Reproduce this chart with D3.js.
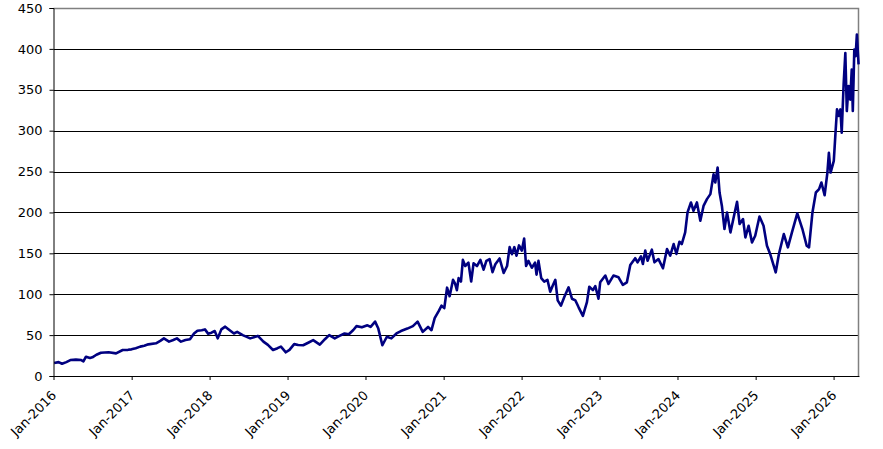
<!DOCTYPE html>
<html>
<head>
<meta charset="utf-8">
<script src="https://cdn.jsdelivr.net/npm/d3@7"></script>
<style>
  body { margin: 0; background: #fff; }
  svg { display: block; }
  .axis text { font-family: "DejaVu Sans", Verdana, sans-serif; fill: #000; }
</style>
</head>
<body>
<div id="chart"></div>
<script>
// dates, one line per year
const dates = [
  "2016-01-04","2016-01-25","2016-02-10","2016-03-01","2016-03-20","2016-04-15","2016-05-10","2016-05-20","2016-06-01","2016-06-20","2016-07-01","2016-07-20","2016-08-10","2016-09-15","2016-10-20","2016-11-20","2016-12-15","2016-12-31",
  "2017-01-20","2017-02-10","2017-03-01","2017-03-20","2017-04-25","2017-05-15","2017-06-01","2017-06-25","2017-07-15","2017-08-01","2017-08-20","2017-09-10","2017-10-01","2017-10-20","2017-11-05","2017-11-25","2017-12-10","2017-12-25",
  "2018-01-10","2018-01-25","2018-02-08","2018-02-25","2018-03-15","2018-04-05","2018-04-25","2018-05-10","2018-06-05","2018-07-10","2018-08-15","2018-09-10","2018-10-01","2018-10-25","2018-11-15","2018-12-01","2018-12-24",
  "2019-01-10","2019-02-01","2019-02-20","2019-03-15","2019-04-10","2019-05-01","2019-06-01","2019-06-25","2019-07-15","2019-08-10","2019-09-01","2019-09-25","2019-10-15","2019-11-05","2019-11-20","2019-12-15",
  "2020-01-10","2020-01-25","2020-02-15","2020-03-01","2020-03-20","2020-04-10","2020-05-01","2020-05-25","2020-06-15","2020-07-15","2020-08-10","2020-09-01","2020-09-25","2020-10-20","2020-11-05","2020-11-20","2020-12-10","2020-12-22",
  "2021-01-04","2021-01-17","2021-01-29","2021-02-14","2021-02-23","2021-03-04","2021-03-12","2021-03-23","2021-04-01","2021-04-12","2021-04-27","2021-05-10","2021-05-21","2021-06-06","2021-06-22","2021-07-07","2021-07-20","2021-08-04","2021-08-18","2021-08-31","2021-09-20","2021-10-09","2021-10-25","2021-11-06","2021-11-17","2021-11-28","2021-12-08","2021-12-20",
  "2022-01-02","2022-01-13","2022-01-22","2022-02-02","2022-02-18","2022-03-05","2022-03-12","2022-03-21","2022-04-03","2022-04-17","2022-05-02","2022-05-15","2022-05-28","2022-06-08","2022-06-19","2022-07-04","2022-07-20","2022-08-09","2022-08-25","2022-09-10","2022-09-25","2022-10-15","2022-11-03","2022-11-14","2022-12-01","2022-12-12","2022-12-27",
  "2023-01-04","2023-01-28","2023-02-12","2023-03-07","2023-03-31","2023-04-20","2023-05-09","2023-05-25","2023-06-17","2023-06-28","2023-07-14","2023-07-23","2023-08-03","2023-08-14","2023-09-03","2023-09-15","2023-10-04","2023-10-25","2023-11-13","2023-11-28","2023-12-14","2023-12-27",
  "2024-01-10","2024-01-21","2024-02-06","2024-02-17","2024-03-04","2024-03-16","2024-04-01","2024-04-17","2024-05-02","2024-05-18","2024-06-03","2024-06-18","2024-06-26","2024-07-07","2024-07-16","2024-07-27","2024-08-08","2024-08-20","2024-09-05","2024-09-20","2024-10-06","2024-10-18","2024-11-03","2024-11-14","2024-11-29","2024-12-15","2024-12-30",
  "2025-01-19","2025-02-07","2025-02-23","2025-03-10","2025-04-05","2025-04-20","2025-05-13","2025-06-01","2025-06-20","2025-07-15","2025-08-08","2025-08-28","2025-09-08","2025-09-24","2025-10-10","2025-10-25","2025-11-05","2025-11-20","2025-12-03","2025-12-10","2025-12-18",
  "2026-01-02","2026-01-10","2026-01-17","2026-01-25","2026-02-02","2026-02-08","2026-02-17","2026-02-25","2026-03-04","2026-03-12","2026-03-20","2026-03-27","2026-04-01","2026-04-08","2026-04-14","2026-04-20","2026-04-28"
];

// prices, same order as dates
const values = [
  16,17,15,17,19.5,20,19.5,18,23.6,22,22.8,26,28.5,29,27.7,31.8,32,32.6,
  34,35.9,37,38.7,40,43,46,42,44,46,42,44,45,52,55.4,56,57,51.8,
  53,55,46,57,60.3,56,52,54,50,46,49,42,38,31.8,34,36,29,
  32,39,38,37.6,41,43.8,38.4,45,50,45.9,49,52,51,56.2,61,59.5,
  62,60,66.5,58,37.6,48,46,52,55,58,61,66.5,54,60,56,70.7,80,86,
  83,108,97.5,117.6,113.4,105,119.7,115.5,142,134.5,138.6,115.5,137.8,134.5,142,130,140.8,142.9,127,136.6,143.7,126,134.5,157.6,149,157.6,147,159.7,
  153.4,168,134.5,140.8,132.4,138.6,124,140.8,119.7,115.5,117.6,103,111.3,117.6,92.4,86,96.6,108.4,94.5,92.4,84,73.5,90.3,109.2,105,110,94.5,
  114.6,122.8,112.6,122.8,120.7,111.4,114.6,135.8,144,139,146.3,137,153.3,141,154.5,139,143,131.7,155.3,147.2,161.4,149.2,
  164.2,161.4,175.6,200,212.2,202,212.2,189.8,208,216.3,222.4,246.7,236.6,254.9,224.4,208,179.7,200,175.6,193.9,213,185.8,191.9,169.5,183.7,163.4,171.5,
  195,183.7,159.3,149.2,126.8,149.2,173.6,157.3,175.6,198.8,179.7,159.3,157.3,200,224.4,228.5,236.6,221,248.8,273,248.8,
  263,297.6,326,318,326,297.6,356.5,395,324,354.5,338,374.8,324,399.2,391,417.5,381
];

const yTicks = [0, 50, 100, 150, 200, 250, 300, 350, 400, 450];
const xTickYears = [2016, 2017, 2018, 2019, 2020, 2021, 2022, 2023, 2024, 2025, 2026];

const parse = d3.timeParse("%Y-%m-%d");
const data = dates.map((d, i) => ({ date: parse(d), value: values[i] }));

const W = 883, H = 449;
const margin = { top: 8, right: 24, bottom: 73, left: 53.5 };
const width = W - margin.left - margin.right;
const height = H - margin.top - margin.bottom;

const svg = d3.select("#chart").append("svg")
  .attr("width", W)
  .attr("height", H);

const g = svg.append("g")
  .attr("transform", `translate(${margin.left},${margin.top})`);

const x = d3.scaleTime()
  .domain([new Date(2016, 0, 1), new Date(2026, 3, 30)])
  .range([0, width]);

const y = d3.scaleLinear()
  .domain([0, 450])
  .range([height, 0]);

// horizontal gridlines
g.selectAll(".grid")
  .data(yTicks.filter(t => t > 0 && t < 450))
  .enter()
  .append("line")
  .attr("class", "grid")
  .attr("x1", 0)
  .attr("x2", width)
  .attr("y1", d => Math.round(y(d)) + 0.5)
  .attr("y2", d => Math.round(y(d)) + 0.5)
  .attr("stroke", "#000")
  .attr("stroke-width", 1);

// grey frame on top and right
g.append("path")
  .attr("d", `M0,0.5H${width - 0.5}V${height}`)
  .attr("fill", "none")
  .attr("stroke", "#808080")
  .attr("stroke-width", 1.5);

// the price line
const line = d3.line()
  .x(d => x(d.date))
  .y(d => y(d.value));

g.append("path")
  .datum(data)
  .attr("fill", "none")
  .attr("stroke", "#000080")
  .attr("stroke-width", 2.6)
  .attr("stroke-linejoin", "round")
  .attr("d", line);

// y axis
const yAxis = g.append("g")
  .attr("class", "axis")
  .call(d3.axisLeft(y).tickValues(yTicks).tickSize(4).tickPadding(7));
yAxis.selectAll("text").style("font-size", "13px");
yAxis.select(".domain").attr("stroke", "#000");

// x axis
const xAxis = g.append("g")
  .attr("class", "axis")
  .attr("transform", `translate(0,${height})`)
  .call(d3.axisBottom(x)
    .tickValues(xTickYears.map(yr => new Date(yr, 0, 1)))
    .tickFormat(d3.timeFormat("Jan-%Y"))
    .tickSize(4)
    .tickSizeOuter(0));
xAxis.select(".domain").attr("stroke", "#000");
xAxis.selectAll("text")
  .style("font-size", "13px")
  .attr("text-anchor", "end")
  .attr("x", 0)
  .attr("y", 0)
  .attr("dy", "0.35em")
  .attr("transform", "translate(0,17) rotate(-45)");
</script>
</body>
</html>
